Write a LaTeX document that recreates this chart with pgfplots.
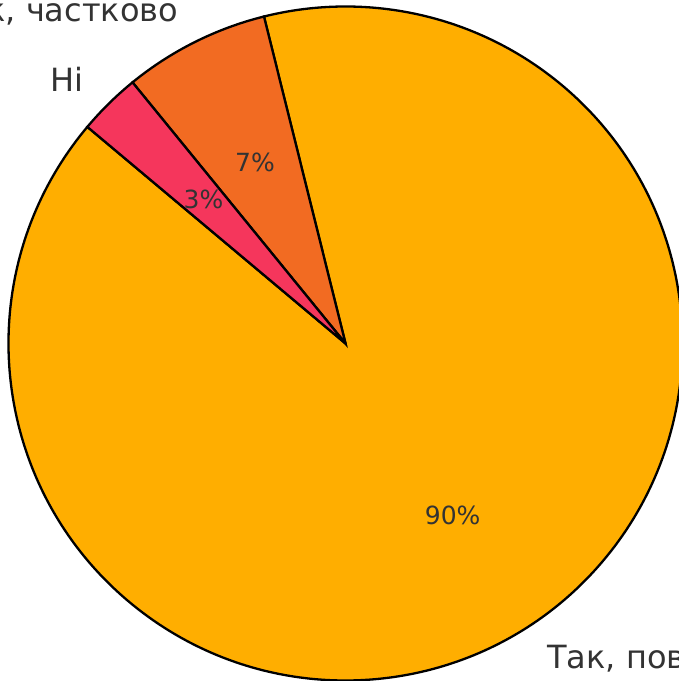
\documentclass[border=0pt]{standalone}
\usepackage{pgfplots}
\pgfplotsset{compat=1.18}
\usepackage{pgfplotstable}
\usepackage{fontspec}
\setmainfont{DejaVu Sans}
\definecolor{cFull}{HTML}{FFAE00}
\definecolor{cPart}{HTML}{F26B22}
\definecolor{cNo}{HTML}{F5365C}
\definecolor{txt}{HTML}{333333}
\pgfplotstableread{
value
90
7
3
}\piedata
\begin{document}
\pgfplotstablegetelem{0}{value}\of\piedata \let\vA\pgfplotsretval
\pgfplotstablegetelem{1}{value}\of\piedata \let\vB\pgfplotsretval
\pgfplotstablegetelem{2}{value}\of\piedata \let\vC\pgfplotsretval
\begin{tikzpicture}
\pgfmathsetmacro\sA{140}
\pgfmathsetmacro\eA{\sA+3.6*\vA}
\pgfmathsetmacro\eB{\eA+3.6*\vB}
\pgfmathsetmacro\eC{\eB+3.6*\vC}
\pgfmathsetmacro\mA{(\sA+\eA)/2}
\pgfmathsetmacro\mB{(\eA+\eB)/2}
\pgfmathsetmacro\mC{(\eB+\eC)/2}
\def\R{168.5pt}
\def\Rl{185.35pt}
\def\Rp{101.1pt}
\begin{axis}[hide axis, x=0.5pt, y=0.5pt, xmin=0, xmax=679, ymin=0, ymax=681, clip=false]
\draw[fill=cFull, line width=1.15pt] (axis cs:345.5,337.5) -- ++(\sA:\R) arc[start angle=\sA, end angle=\eA, radius=\R] -- cycle;
\draw[fill=cPart, line width=1.15pt] (axis cs:345.5,337.5) -- ++(\eA:\R) arc[start angle=\eA, end angle=\eB, radius=\R] -- cycle;
\draw[fill=cNo, line width=1.15pt] (axis cs:345.5,337.5) -- ++(\eB:\R) arc[start angle=\eB, end angle=\eC, radius=\R] -- cycle;
\path (axis cs:345.5,337.5) ++(\mA:\Rp) node[text=txt, font=\fontsize{12.5}{15}\selectfont] {90\%};
\path (axis cs:345.5,337.5) ++(\mB:\Rp) node[text=txt, font=\fontsize{12.5}{15}\selectfont] {7\%};
\path (axis cs:345.5,337.5) ++(\mC:\Rp) node[text=txt, font=\fontsize{12.5}{15}\selectfont] {3\%};
\path (axis cs:345.5,337.5) ++(\mA:\Rl) node[anchor=west, inner sep=2.5pt, text=txt, font=\fontsize{16}{19}\selectfont] {Так, повністю};
\path (axis cs:345.5,337.5) ++(\mB:\Rl) node[anchor=east, inner sep=0.5pt, text=txt, font=\fontsize{16}{19}\selectfont] {Так, частково};
\path (axis cs:345.5,337.5) ++(\mC:\Rl) node[anchor=east, inner sep=0.5pt, text=txt, font=\fontsize{16}{19}\selectfont] {Ні};
\end{axis}
\pgfresetboundingbox
\path (current axis.south west) rectangle (current axis.north east);
\end{tikzpicture}
\end{document}
